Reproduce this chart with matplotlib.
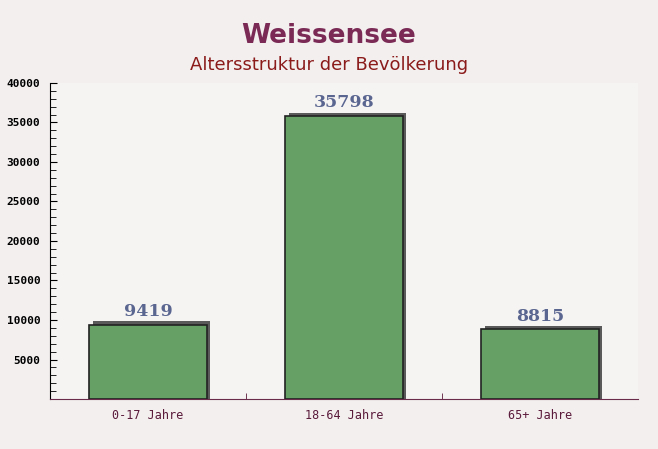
import matplotlib.pyplot as plt
from matplotlib.ticker import MultipleLocator

categories = ['0-17 Jahre', '18-64 Jahre', '65+ Jahre']
values = [9419, 35798, 8815]
yticks = [5000, 10000, 15000, 20000, 25000, 30000, 35000, 40000]

fig = plt.figure(figsize=(6.58, 4.49), dpi=100)
fig.patch.set_facecolor('#f3efef')
ax = fig.add_axes([50 / 658, 50 / 449, 588 / 658, 316 / 449])
ax.set_facecolor('#f6f3f3')

x = range(len(categories))
# schmaler Schatten hinter den Balken
ax.bar([i + 0.018 for i in x], [v + 450 for v in values], width=0.6,
       color='#5a5a5a', zorder=2)
ax.bar(x, values, width=0.6, color='#67a064', edgecolor='#222222',
       linewidth=1.2, zorder=3)

for i, v in zip(x, values):
    ax.text(i, v + 600, str(v), ha='center', va='bottom', fontsize=12.5,
            fontweight='bold', family='DejaVu Serif', color='#5a6690', zorder=4)

ax.set_xlim(-0.5, 2.5)
ax.set_ylim(0, 40000)
ax.set_yticks(yticks)
ax.yaxis.set_minor_locator(MultipleLocator(1000))
ax.set_xticks(list(x))
ax.set_xticklabels(categories, family='DejaVu Sans Mono', fontsize=8.5,
                   color='#5a1a3a')
ax.set_xticks([0.5, 1.5], minor=True)
ax.tick_params(axis='x', which='major', length=0, pad=7)
ax.tick_params(axis='x', which='minor', length=4, direction='in',
               color='#5a1a3a')
ax.tick_params(axis='y', which='major', length=5, direction='in',
               color='black', labelsize=8, pad=7)
ax.tick_params(axis='y', which='minor', length=4, direction='in',
               color='black')
for lab in ax.get_yticklabels():
    lab.set_family('DejaVu Sans Mono')
    lab.set_fontweight('bold')

ax.spines['top'].set_visible(False)
ax.spines['right'].set_visible(False)
ax.spines['left'].set_color('black')
ax.spines['bottom'].set_color('#6a2a4a')

fig.text(0.5, 0.905, 'Weissensee', ha='center', fontsize=19,
         fontweight='bold', color='#7a2a55')
fig.text(0.5, 0.843, 'Altersstruktur der Bevölkerung', ha='center',
         fontsize=13, color='#8b1a1a')

fig.savefig('out.png', dpi=100, facecolor=fig.get_facecolor())
